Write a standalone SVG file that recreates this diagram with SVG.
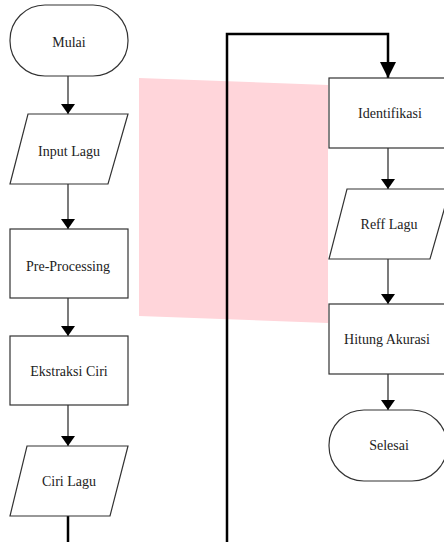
<svg xmlns="http://www.w3.org/2000/svg" width="444" height="542" viewBox="0 0 444 542">
<style>
.s{fill:#fff;stroke:#333;stroke-width:1.2}
.t{font-family:"Liberation Serif","Times New Roman",serif;font-size:14px;fill:#222;text-anchor:middle;dominant-baseline:central}
.c{stroke:#222;stroke-width:1.2;fill:none}
.k{stroke:#000;stroke-width:2.5;fill:none}
</style>
<defs>
<marker id="a" viewBox="0 0 10 14" refX="10" refY="7" markerWidth="10" markerHeight="14" markerUnits="userSpaceOnUse" orient="auto"><path d="M0,0L10,7L0,14Z" fill="#000"/></marker>
<marker id="b" viewBox="0 0 16 16" refX="16" refY="8" markerWidth="16" markerHeight="16" markerUnits="userSpaceOnUse" orient="auto"><path d="M0,0L16,8L0,16Z" fill="#000"/></marker>
</defs>
<rect width="444" height="542" fill="#fff"/>
<polygon points="139,78 328,85 328,323 139,316" fill="#FFD5DA"/>
<g id="connectors">
<line class="c" x1="68" y1="76" x2="68" y2="114" marker-end="url(#a)"/>
<line class="c" x1="68" y1="184" x2="68" y2="229" marker-end="url(#a)"/>
<line class="c" x1="68" y1="298" x2="68" y2="336" marker-end="url(#a)"/>
<line class="c" x1="68" y1="405" x2="68" y2="446" marker-end="url(#a)"/>
<line class="k" x1="68" y1="516" x2="68" y2="542"/>
<polyline class="k" points="227,542 227,34 388,34 388,78" marker-end="url(#b)"/>
<line class="c" x1="388" y1="148" x2="388" y2="189" marker-end="url(#a)"/>
<line class="c" x1="388" y1="259" x2="388" y2="304" marker-end="url(#a)"/>
<line class="c" x1="388" y1="374" x2="388" y2="410" marker-end="url(#a)"/>
</g>
<g id="mulai"><rect class="s" x="10" y="5" width="118" height="71" rx="35" ry="35"/><text class="t" x="69" y="42">Mulai</text></g>
<g id="input-lagu"><polygon class="s" points="28,114 128,114 108,184 10,184"/><text class="t" x="69" y="151">Input Lagu</text></g>
<g id="pre-processing"><rect class="s" x="10" y="229" width="118" height="69"/><text class="t" x="68" y="266">Pre-Processing</text></g>
<g id="ekstraksi-ciri"><rect class="s" x="10" y="336" width="118" height="69"/><text class="t" x="69" y="371">Ekstraksi Ciri</text></g>
<g id="ciri-lagu"><polygon class="s" points="27,446 128,446 110,516 10,516"/><text class="t" x="69" y="481">Ciri Lagu</text></g>
<g id="identifikasi"><rect class="s" x="329" y="78" width="118" height="70"/><text class="t" x="390" y="113">Identifikasi</text></g>
<g id="reff-lagu"><polygon class="s" points="347,189 450,189 430,259 329,259"/><text class="t" x="389" y="224">Reff Lagu</text></g>
<g id="hitung-akurasi"><rect class="s" x="329" y="304" width="118" height="70"/><text class="t" x="387" y="339">Hitung Akurasi</text></g>
<g id="selesai"><rect class="s" x="329" y="410" width="118" height="71" rx="35" ry="35"/><text class="t" x="389" y="445">Selesai</text></g>
</svg>
